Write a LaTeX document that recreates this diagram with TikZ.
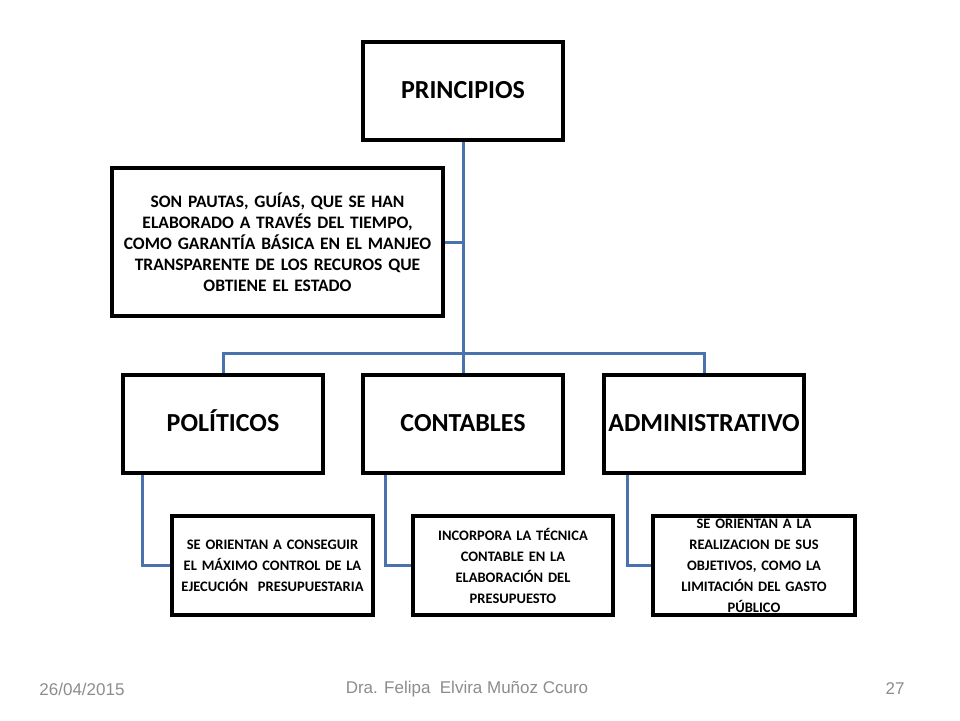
\documentclass[tikz,border=0pt]{standalone}
\usepackage{fontspec}
\setmainfont{Carlito}
\newfontfamily\footfont{Liberation Sans}
\definecolor{conn}{HTML}{4A72AC}
\definecolor{footgray}{HTML}{8C8C8C}
\begin{document}
\begin{tikzpicture}[x=1pt,y=-1pt,
  box/.style={draw=black,line width=3.2pt,fill=white,inner sep=0pt,align=center,font=\bfseries},
  big/.style={box,minimum width=200pt,minimum height=98pt,text height=17pt,text depth=2pt,font=\bfseries\fontsize{26}{30}\selectfont},
  small/.style={box,font=\bfseries\fontsize{14.5}{21}\selectfont},
  link/.style={draw=conn,line width=3pt}]
\useasboundingbox (0,0) rectangle (960,720);
\node[big] (p) at (463,91) {PRINCIPIOS};
\node[box,minimum width=331pt,minimum height=148pt,text width=328pt,font=\bfseries\fontsize{17.5}{21}\selectfont] (s) at (277.5,242) {SON PAUTAS, GUÍAS, QUE SE HAN\\ELABORADO A TRAVÉS DEL TIEMPO,\\COMO GARANTÍA BÁSICA EN EL MANJEO\\TRANSPARENTE DE LOS RECUROS QUE\\OBTIENE EL ESTADO};
\node[big] (a) at (223,424) {POLÍTICOS};
\node[big] (b) at (463,424) {CONTABLES};
\node[big] (c) at (704,424) {ADMINISTRATIVO};
\node[small,minimum width=201pt,minimum height=99pt,text width=200pt] (a1) at (272.5,565.5) {SE ORIENTAN A CONSEGUIR\\EL MÁXIMO CONTROL DE LA\\EJECUCIÓN\ \ PRESUPUESTARIA};
\node[small,minimum width=200pt,minimum height=99pt,text width=195pt] (b1) at (513,565.5) {INCORPORA LA TÉCNICA\\CONTABLE EN LA\\ELABORACIÓN DEL\\PRESUPUESTO};
\node[small,minimum width=202pt,minimum height=99pt,text width=195pt] (c1) at (754,565.5) {SE ORIENTAN A LA\\REALIZACION DE SUS\\OBJETIVOS, COMO LA\\LIMITACIÓN DEL GASTO\\PÚBLICO};
\coordinate (h) at (463,353);
\draw[link] (p.south) -- (h);
\draw[link] (s.east) -- (s.east -| p.south);
\draw[link] (h) -| (a.north);
\draw[link] (h) -| (c.north);
\draw[link] (h) -- (b.north);
\draw[link] ([xshift=-81pt]a.south) |- (a1.west);
\draw[link] ([xshift=-78pt]b.south) |- (b1.west);
\draw[link] ([xshift=-77pt]c.south) |- (c1.west);
\node[font=\footfont\fontsize{17}{20}\selectfont,text=footgray] (d) at (82,689) {26/04/2015};
\node[font=\footfont\fontsize{17}{20}\selectfont,text=footgray] (n) at (467,689) {Dra. Felipa\ \ Elvira Muñoz Ccuro};
\node[font=\footfont\fontsize{17}{20}\selectfont,text=footgray] (g) at (895,689) {27};
\end{tikzpicture}
\end{document}
